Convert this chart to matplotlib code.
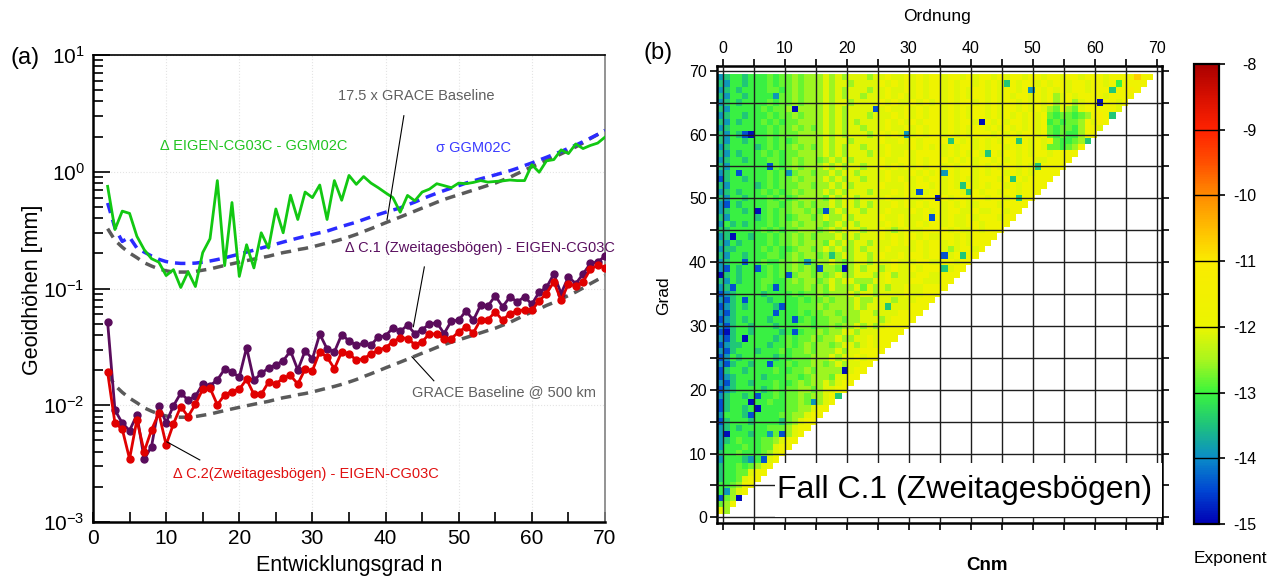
import numpy as np
import matplotlib
matplotlib.use("Agg")
import matplotlib.pyplot as plt
from matplotlib.colors import LinearSegmentedColormap, Normalize
from matplotlib.cm import ScalarMappable
from matplotlib.patches import Rectangle
import matplotlib.ticker as mticker

plt.rcParams['font.family'] = ['Liberation Sans', 'DejaVu Sans']

# ---------------- data: panel (a) ----------------
degree = list(range(2, 71))

diff_eigen_ggm02c = [0.75, 0.32, 0.46, 0.44, 0.28, 0.215, 0.18, 0.168, 0.129, 0.145,
                     0.102, 0.139, 0.104, 0.203, 0.267, 0.84, 0.157, 0.545, 0.127, 0.237,
                     0.15, 0.30, 0.222, 0.48, 0.30, 0.63, 0.39, 0.67, 0.60, 0.77,
                     0.39, 0.84, 0.57, 0.93, 0.78, 0.91, 0.80, 0.73, 0.66, 0.60,
                     0.45, 0.627, 0.564, 0.67, 0.71, 0.79, 0.76, 0.73, 0.80, 0.79,
                     0.81, 0.84, 0.815, 0.826, 0.835, 0.85, 0.84, 0.84, 1.15, 0.99,
                     1.24, 1.27, 1.54, 1.43, 1.73, 1.58, 1.68, 1.76, 1.98]

sigma_ggm02c = [0.54, 0.33, 0.253, 0.275, 0.222, 0.205, 0.19, 0.178, 0.17, 0.166,
                0.164, 0.164, 0.165, 0.168, 0.172, 0.177, 0.183, 0.19, 0.197, 0.205,
                0.213, 0.222, 0.231, 0.24, 0.25, 0.26, 0.27, 0.28, 0.29, 0.30,
                0.31, 0.325, 0.34, 0.355, 0.37, 0.39, 0.41, 0.43, 0.45, 0.47,
                0.49, 0.52, 0.55, 0.585, 0.62, 0.655, 0.69, 0.725, 0.76, 0.80,
                0.835, 0.87, 0.905, 0.94, 0.98, 1.02, 1.07, 1.13, 1.19, 1.26,
                1.33, 1.41, 1.49, 1.59, 1.69, 1.81, 1.94, 2.09, 2.26]

grace_baseline = [0.0186, 0.0148, 0.0129, 0.0115, 0.0105, 0.0095, 0.0089, 0.0084, 0.0081, 0.0079,
                  0.0079, 0.0079, 0.0080, 0.0082, 0.0084, 0.0087, 0.0090, 0.0093, 0.0096, 0.0099,
                  0.0102, 0.0105, 0.0108, 0.0112, 0.0116, 0.0119, 0.0123, 0.0126, 0.0130, 0.0135,
                  0.0140, 0.0145, 0.0151, 0.0158, 0.0166, 0.0176, 0.0186, 0.0197, 0.0209, 0.0221,
                  0.0234, 0.0248, 0.0263, 0.0279, 0.0295, 0.0313, 0.0331, 0.0347, 0.0363, 0.0380,
                  0.0398, 0.0417, 0.0437, 0.0457, 0.0484, 0.0513, 0.0550, 0.0589, 0.0631, 0.0668,
                  0.0716, 0.0759, 0.0813, 0.0871, 0.0933, 0.101, 0.110, 0.119, 0.129]
grace_factor = 17.5

diff_c1 = [0.0515, 0.0091, 0.00703, 0.00607, 0.00828, 0.00345, 0.00443, 0.0099, 0.0071, 0.0099,
           0.0127, 0.0111, 0.0119, 0.0152, 0.0147, 0.0165, 0.0204, 0.0193, 0.0174, 0.0312,
           0.0163, 0.0188, 0.0208, 0.0222, 0.024, 0.0292, 0.0201, 0.0292, 0.025, 0.0407,
           0.0304, 0.0286, 0.0403, 0.0356, 0.0327, 0.0338, 0.0327, 0.0385, 0.0393, 0.046,
           0.043, 0.0485, 0.0411, 0.0445, 0.0495, 0.0511, 0.0411, 0.0528, 0.0535, 0.0644,
           0.0535, 0.072, 0.071, 0.0865, 0.0697, 0.0848, 0.0769, 0.0848, 0.0734, 0.093,
           0.102, 0.133, 0.0906, 0.126, 0.110, 0.133, 0.164, 0.169, 0.189]

diff_c2 = [0.0191, 0.00703, 0.00624, 0.00347, 0.0075, 0.00401, 0.00615, 0.00855, 0.00458, 0.00693,
           0.00975, 0.008, 0.0102, 0.0137, 0.014, 0.0101, 0.0123, 0.0131, 0.0137, 0.0167,
           0.0124, 0.0124, 0.0158, 0.0152, 0.0171, 0.018, 0.0152, 0.0204, 0.0198, 0.0288,
           0.0258, 0.0206, 0.0286, 0.0277, 0.0243, 0.0251, 0.0274, 0.0296, 0.0312, 0.0349,
           0.038, 0.0373, 0.0331, 0.0349, 0.0411, 0.0406, 0.0373, 0.0373, 0.0425, 0.0469,
           0.0417, 0.0542, 0.0542, 0.063, 0.0535, 0.061, 0.064, 0.066, 0.0652, 0.0784,
           0.0906, 0.114, 0.0794, 0.110, 0.105, 0.114, 0.146, 0.158, 0.151]

# ---------------- data: panel (b) ----------------
# one string per degree row (n = 1 .. 69), one character per order m = 0 .. n
exponent_code = {'0': -14.9, '1': -14.4, '2': -13.9, '3': -13.45, '4': -13.05, '5': -12.8,
                 '6': -12.55, '7': -12.1, '8': -11.75, '9': -11.3, 'A': -10.7}
cnm_rows = [
    "86",
    "568",
    "1560",
    "42678",
    "445688",
    "3445788",
    "34455788",
    "344545678",
    "2444324178",
    "34454445678",
    "244454455788",
    "2345444556788",
    "20444344251678",
    "234344445556788",
    "1344434444356788",
    "24443144445566788",
    "134434044445566788",
    "1344404454455652678",
    "23443414454556566783",
    "123444434545566567788",
    "2134434445445656676788",
    "12344443444554566657788",
    "134434444544556566660788",
    "2134434414454556656767788",
    "12434444434455566676778788",
    "213444344454556566676778888",
    "1233444434454565665677678788",
    "21340444434545565667667787888",
    "103443444434145565667767778888",
    "2134434443444554556566767678888",
    "12343444344414545566566777678888",
    "213444444144454556656667767778888",
    "1234344443144555656666767773777888",
    "21341444344445455656667667776777888",
    "123444434444545565666767767777877888",
    "231444454145556" "56576667576767787788" "88",
    "324344455445656" "65676776667787778877" "788",
    "034344445451566" "56567667776786777887" "7888",
    "214344145455656" "51665067677678778788" "83788",
    "234414454455652" "56676567767778777887" "788788",
    "324434445545656" "65636767767877878878" "8178388",
    "233444454544566" "56767667677787777878" "87678878",
    "324344445455656" "66576767767778787878" "878787888",
    "230443445455656" "56667676777878788787" "7887878888",
    "334444454545566" "65676777677876787788" "88787787888",
    "243434445455656" "66567676777787877878" "878778878888",
    "324444345454566" "56766767777877877781" "8787787888788",
    "234434045455665" "65167677677787778787" "87887787788788",
    "214344445545656" "56676776767778787878" "878787788878888",
    "324434445454566" "66576776777787787788" "0878878878878388",
    "234344454545656" "66767677767778787178" "87887387887887888",
    "324444345455566" "56676767777877787887" "878738787887878888",
    "134434445455656" "66767677677787877878" "8787877888783878888",
    "234144445452566" "56676776777787778787" "82878878788787878888",
    "324444441545656" "66767677677878787878" "878788787878878738888",
    "234434445545656" "65676767777877887878" "8878787887878788778888",
    "324344454545566" "66767677767787787888" "87878787387887878878888",
    "234444345455656" "56767677677787778787" "878788787887878787554568",
    "324434445454566" "66767767777877878788" "8838787878788387878544563",
    "324310445455566" "66767677767878727878" "87878788878787887854544688",
    "234444445455656" "56767677677787787878" "878787887878787878545546887",
    "324344454545566" "66767676777787878788" "8787887087878878784545568798",
    "234434445455656" "66767677767778787878" "87878788787878787854554568983",
    "324444454556066" "66767677771787787878" "878787887878878787657657888887",
    "234344445455656" "66767767777878778787" "8787887878788787878678678808878",
    "324434444255656" "66767677677787877878" "87878788787878878786787888878888",
    "234344445545656" "66767677767787787878" "878787887878878287878788788838898",
    "324434445455656" "66767767777878787878" "8787887878738788787887887887848888",
    "234434445455656" "66767677767787787878" "87887878878788788788788788878888A887",
]
cbar_ticks = [-15, -14, -13, -12, -11, -10, -9, -8]

# ---------------- figure ----------------
fig = plt.figure(figsize=(12.79, 5.77), dpi=100)

# ===== panel (a) =====
ax = fig.add_axes([93 / 1279, 1 - 522 / 577, 512 / 1279, 467 / 577])
ax.set_yscale('log')
ax.set_xlim(0, 70)
ax.set_ylim(1e-3, 1e1)

deg = np.array(degree)
base = np.array(grace_baseline)
dash = (0, (3, 2))
ax.plot(deg, base * grace_factor, color='#5a5a5a', lw=2.5, ls=dash, zorder=2)
ax.plot(deg, base, color='#5a5a5a', lw=2.5, ls=dash, zorder=2)
ax.plot(deg, sigma_ggm02c, color='#2b2bff', lw=2.5, ls=dash, zorder=3)
ax.plot(deg, diff_eigen_ggm02c, color='#12c812', lw=2.0, zorder=4)
ax.plot(deg, diff_c1, color='#5a0c5c', lw=2.0, marker='o', ms=5, zorder=5)
ax.plot(deg, diff_c2, color='#e00000', lw=2.0, marker='o', ms=5, zorder=6)

ax.xaxis.set_major_locator(mticker.MultipleLocator(10))
ax.xaxis.set_minor_locator(mticker.MultipleLocator(5))
ax.yaxis.set_major_locator(mticker.LogLocator(base=10, numticks=10))
ax.yaxis.set_minor_locator(mticker.LogLocator(base=10, subs=np.arange(2, 10), numticks=50))
ax.yaxis.set_minor_formatter(mticker.NullFormatter())
ax.tick_params(which='both', direction='in', top=False, right=False, width=1.2, labelsize=15)
ax.tick_params(axis='x', which='both', length=7, pad=5)
ax.tick_params(axis='y', which='major', length=12, pad=6)
ax.tick_params(axis='y', which='minor', length=7)
ax.grid(True, which='major', color='#e4e4e4', ls=':', lw=0.8, zorder=0)
for s in ('left', 'bottom'):
    ax.spines[s].set_linewidth(1.8)
ax.spines['top'].set_linewidth(1.2)
ax.spines['right'].set_linewidth(1.2)
ax.spines['right'].set_color('#808080')

lab_fs = 10.5
ax.text(22.0, 1.65, 'Δ EIGEN-CG03C - GGM02C', color='#22c422', fontsize=lab_fs, ha='center', va='center')
ax.text(44.2, 4.48, '17.5 x GRACE Baseline', color='#606060', fontsize=lab_fs, ha='center', va='center')
ax.text(52.0, 1.61, 'σ GGM02C', color='#3a3aff', fontsize=lab_fs, ha='center', va='center')
ax.text(52.9, 0.223, 'Δ C.1 (Zweitagesbögen) - EIGEN-CG03C', color='#5a1060', fontsize=lab_fs,
        ha='center', va='center')
ax.text(56.2, 0.013, 'GRACE Baseline @ 500 km', color='#606060', fontsize=lab_fs, ha='center', va='center')
ax.text(29.1, 0.00258, 'Δ C.2(Zweitagesbögen) - EIGEN-CG03C', color='#e01010', fontsize=lab_fs,
        ha='center', va='center')
for (x1, y1), (x2, y2) in [((42.5, 3.02), (40.2, 0.388)), ((45.3, 0.153), (43.8, 0.047)),
                           ((46.6, 0.0162), (43.6, 0.026)), ((14.6, 0.0034), (10.1, 0.00486))]:
    ax.plot([x1, x2], [y1, y2], color='black', lw=0.8, zorder=7)

fig.text(33 / 1279, 1 - 290 / 577, 'Geoidhöhen [mm]', rotation=90, fontsize=15.5, ha='center', va='center')
fig.text(349 / 1279, 1 - 565 / 577, 'Entwicklungsgrad n', fontsize=15.5, ha='center', va='center')
fig.text(25 / 1279, 1 - 58 / 577, '(a)', fontsize=17, ha='center', va='center')

# ===== panel (b) =====
nodes = [(-15, '#0000b4'), (-14.5, '#0046d2'), (-14, '#0a8cc8'), (-13.5, '#1ec37c'),
         (-13, '#3cf53c'), (-12.5, '#aaf51e'), (-12, '#ebf500'), (-11, '#faeb00'),
         (-10.5, '#ffbe00'), (-10, '#ff8c00'), (-9.5, '#ff5000'), (-9, '#ff2200'),
         (-8.5, '#d81000'), (-8, '#aa0000')]
cmap = LinearSegmentedColormap.from_list('expo', [((v + 15) / 7, c) for v, c in nodes])
norm = Normalize(-15, -8)

nrows = len(cnm_rows)
Z = np.full((nrows, 70), np.nan)
for k, row in enumerate(cnm_rows):
    n = k + 1
    row = (row + row[-1] * 80)[:n + 1]
    for m, ch in enumerate(row):
        if m < 70:
            Z[k, m] = exponent_code[ch]
Z = np.ma.masked_invalid(Z)

ax2 = fig.add_axes([716.7 / 1279, 1 - 523.3 / 577, 445 / 1279, 457.6 / 577])
xe = np.linspace(-0.9, 69.4, 71)
ye = np.linspace(0.55, 69.5, nrows + 1)
ax2.pcolormesh(xe, ye, Z, cmap=cmap, norm=norm, zorder=1)
ax2.set_xlim(-0.97, 70.8)
ax2.set_ylim(-0.94, 70.8)
ax2.set_axisbelow(False)
for axis in (ax2.xaxis, ax2.yaxis):
    axis.set_major_locator(mticker.MultipleLocator(10))
    axis.set_minor_locator(mticker.MultipleLocator(5))
ax2.grid(True, which='both', color='#1e1e1e', lw=1.0)
ax2.tick_params(which='both', direction='out', length=5, width=1.2, top=True, bottom=True,
                left=True, right=True, labeltop=True, labelbottom=False, labelleft=True,
                labelright=False, labelsize=11.5, pad=2)
for s in ax2.spines.values():
    s.set_linewidth(1.8)
ax2.add_patch(Rectangle((8.4, 0.08), 70.8 - 8.4, 8.4, facecolor='white', edgecolor='none', zorder=3))
ax2.text(8.7, 4.3, 'Fall C.1 (Zweitagesbögen)', fontsize=23, ha='left', va='center', zorder=4)

fig.text(937 / 1279, 1 - 17 / 577, 'Ordnung', fontsize=12.5, ha='center', va='center')
fig.text(664 / 1279, 1 - 296 / 577, 'Grad', rotation=90, fontsize=12.5, ha='center', va='center')
fig.text(987 / 1279, 1 - 565 / 577, 'Cnm', fontsize=13.5, fontweight='bold', ha='center', va='center')
fig.text(658 / 1279, 1 - 53 / 577, '(b)', fontsize=17, ha='center', va='center')

# colorbar
cax = fig.add_axes([1194 / 1279, 1 - 524 / 577, 25 / 1279, 460 / 577])
sm = ScalarMappable(norm=norm, cmap=cmap)
cb = fig.colorbar(sm, cax=cax, ticks=cbar_ticks)
cb.set_ticklabels([str(t) for t in cbar_ticks])
cb.outline.set_linewidth(1.6)
for v in cbar_ticks[1:-1]:
    cax.axhline(v, color='black', lw=1.0)
cax.tick_params(length=4, width=1.2, labelsize=11.5, pad=23)
for t in cax.get_yticklabels():
    t.set_horizontalalignment('right')
fig.text(1230 / 1279, 1 - 559 / 577, 'Exponent', fontsize=12.5, ha='center', va='center')

fig.savefig('out.png', dpi=100)
